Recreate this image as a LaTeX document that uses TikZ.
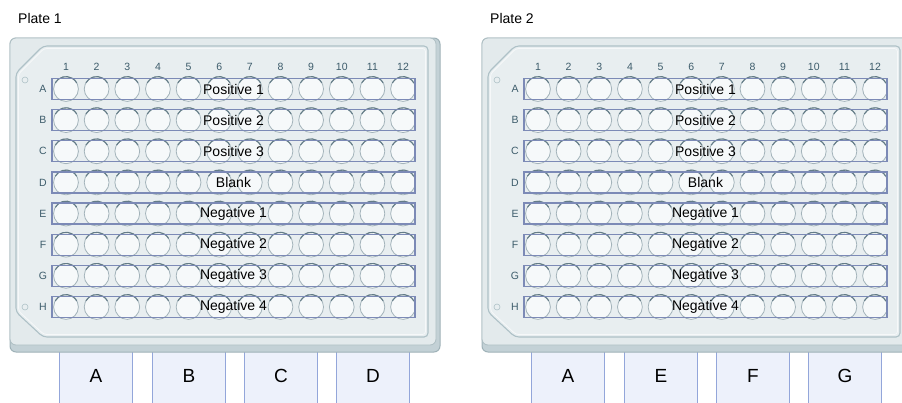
\documentclass[tikz,border=0pt]{standalone}
\usepackage{fontspec}
\setmainfont{Liberation Sans}
\usetikzlibrary{calc}
\definecolor{plateedge}{HTML}{9FB2B8}
\definecolor{platefill}{HTML}{E3EAEC}
\definecolor{platebase}{HTML}{C3D1D6}
\definecolor{innerfill}{HTML}{E8EEF0}
\definecolor{inneredge}{HTML}{AEC1C7}
\definecolor{wellfill}{HTML}{F6F9FA}
\definecolor{welledge}{HTML}{A3B3BA}
\definecolor{wellshade}{HTML}{647C87}
\definecolor{rowedge}{HTML}{7C8AB6}
\definecolor{labelcol}{HTML}{3D5C6B}
\definecolor{boxfill}{HTML}{EDF1FB}
\definecolor{boxedge}{HTML}{93A6DA}
\begin{document}
\begin{tikzpicture}[x=1pt,y=-1pt,
  platetitle/.style={anchor=west,font=\fontsize{14}{16}\selectfont,text=black,inner sep=0},
  rowbox/.style={draw=rowedge,line width=1.2pt,minimum width=363pt,minimum height=21pt,inner sep=0,font=\fontsize{14}{16}\selectfont,text=black},
  colnum/.style={font=\fontsize{10.5}{12}\selectfont,text=labelcol,inner sep=0},
  rowlab/.style={font=\fontsize{10.5}{12}\selectfont,text=labelcol,inner sep=0},
  groupbox/.style={fill=boxfill,minimum width=72pt,minimum height=56pt,inner sep=0,anchor=north,font=\fontsize{19}{21}\selectfont,text=black},
  hole/.style={draw=inneredge,fill=innerfill,line width=0.6pt},
]
\useasboundingbox (0,0) rectangle (902,402);
\clip (0,0) rectangle (902,402);
\foreach \off/\pl/\ba/\bb/\bc/\bd in {0/1/A/B/C/D,472/2/A/E/F/G}{
\begin{scope}[xshift=\off pt]
  \node[platetitle] (title\pl) at (18,18) {Plate \pl};
  % group boxes below the plate
  \foreach \bx/\bl/\bn in {96/\ba/1,189/\bb/2,281/\bc/3,373/\bd/4}{
    \node[groupbox] (g\pl\bn) at (\bx,348) {\raisebox{-7pt}{\bl}};
    \draw[boxedge,line width=1pt] (g\pl\bn.north west) -- (g\pl\bn.south west)
      (g\pl\bn.north east) -- (g\pl\bn.south east);
  }
  % plate body
  \draw[fill=platebase,draw=plateedge,line width=1pt,rounded corners=6pt] (10,38) rectangle (440,352);
  \draw[fill=platefill,draw=plateedge!85,line width=0.8pt,rounded corners=6pt] (10,38) rectangle (436,345);
  \draw[fill=innerfill,draw=inneredge,line width=1.1pt,rounded corners=4pt]
    (16,73) -- (43,46) -- (428,46) -- (428,337) -- (43,337) -- (16,312) -- cycle;
  \draw[white!60!innerfill,line width=0.8pt,rounded corners=3pt]
    (18.5,74) -- (44,48.5) -- (425.5,48.5) -- (425.5,334.5) -- (44,334.5) -- (18.5,311) -- cycle;
  \draw[hole] (25,80) circle[radius=3];
  \draw[hole] (25,307) circle[radius=3];
  % column numbers
  \foreach \c in {1,...,12}{
    \node[colnum] (c\pl-\c) at ({66+30.64*(\c-1)},67) {\c};
  }
  % wells
  \foreach \r in {1,...,8}{
    \foreach \c in {1,...,12}{
      \pgfmathsetmacro{\wx}{66+30.64*(\c-1)}
      \pgfmathsetmacro{\wy}{89+31.14*(\r-1)}
      \draw[fill=wellfill,draw=welledge,line width=0.8pt] (\wx,\wy) circle[radius=12.4];
      \draw[wellshade,line width=1.1pt] ($(\wx,\wy)+(210:12.4)$) arc[start angle=210,end angle=330,radius=12.4];
    }
  }
  % row boxes with labels
  \foreach \L/\txt [count=\i] in {A/Positive 1,B/Positive 2,C/Positive 3,D/Blank,E/Negative 1,F/Negative 2,G/Negative 3,H/Negative 4}{
    \node[rowlab] (l\pl\L) at (43,{89+31.14*(\i-1)}) {\L};
    \node[rowbox] (r\pl\L) at (233.5,{89+31.14*(\i-1)}) {\txt};
  }
\end{scope}
}
\end{tikzpicture}
\end{document}
